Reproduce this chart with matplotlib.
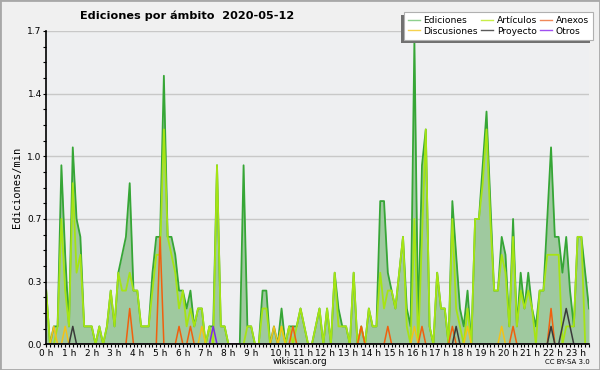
import matplotlib.pyplot as plt
import matplotlib.transforms as mtransforms
from matplotlib.lines import Line2D
from matplotlib.patches import Rectangle
import numpy as np

# edits per minute, 10-minute bins, 00:00 .. 23:50
ediciones = [
    0.3, 0.0, 0.1, 0.1, 1.0, 0.5, 0.1, 1.1, 0.7, 0.6,
    0.1, 0.1, 0.1, 0.0, 0.1, 0.0, 0.1, 0.3, 0.1, 0.4,
    0.5, 0.6, 0.9, 0.3, 0.3, 0.1, 0.1, 0.1, 0.4, 0.6,
    0.6, 1.5, 0.6, 0.6, 0.5, 0.3, 0.3, 0.2, 0.3, 0.1,
    0.2, 0.2, 0.0, 0.1, 0.1, 1.0, 0.1, 0.1, 0.0, 0.0,
    0.0, 0.0, 1.0, 0.1, 0.1, 0.0, 0.0, 0.3, 0.3, 0.0,
    0.1, 0.0, 0.2, 0.0, 0.1, 0.1, 0.1, 0.2, 0.1, 0.0,
    0.0, 0.1, 0.2, 0.0, 0.2, 0.0, 0.4, 0.2, 0.1, 0.1,
    0.0, 0.4, 0.0, 0.1, 0.0, 0.2, 0.1, 0.1, 0.8, 0.8,
    0.4, 0.3, 0.2, 0.4, 0.6, 0.2, 0.1, 1.7, 0.1, 1.0,
    1.2, 0.1, 0.0, 0.4, 0.2, 0.2, 0.0, 0.8, 0.5, 0.2,
    0.1, 0.3, 0.0, 0.7, 0.7, 1.0, 1.3, 0.8, 0.3, 0.3,
    0.6, 0.5, 0.1, 0.7, 0.1, 0.4, 0.2, 0.4, 0.2, 0.1,
    0.3, 0.3, 0.7, 1.1, 0.6, 0.6, 0.4, 0.6, 0.3, 0.1,
    0.6, 0.6, 0.4, 0.2,
]
articulos = [
    0.3, 0.0, 0.0, 0.1, 0.7, 0.3, 0.1, 0.9, 0.4, 0.5,
    0.1, 0.1, 0.1, 0.0, 0.1, 0.0, 0.1, 0.3, 0.1, 0.4,
    0.3, 0.3, 0.4, 0.3, 0.3, 0.1, 0.1, 0.1, 0.3, 0.5,
    0.5, 1.2, 0.6, 0.5, 0.4, 0.2, 0.3, 0.1, 0.2, 0.1,
    0.2, 0.2, 0.0, 0.1, 0.0, 1.0, 0.1, 0.1, 0.0, 0.0,
    0.0, 0.0, 0.0, 0.1, 0.1, 0.0, 0.0, 0.2, 0.2, 0.0,
    0.0, 0.0, 0.1, 0.0, 0.1, 0.0, 0.1, 0.2, 0.1, 0.0,
    0.0, 0.1, 0.2, 0.0, 0.2, 0.0, 0.4, 0.1, 0.1, 0.1,
    0.0, 0.4, 0.0, 0.0, 0.0, 0.2, 0.1, 0.1, 0.4, 0.2,
    0.3, 0.3, 0.2, 0.4, 0.6, 0.1, 0.0, 0.7, 0.0, 0.6,
    1.2, 0.1, 0.0, 0.4, 0.2, 0.2, 0.0, 0.7, 0.2, 0.1,
    0.0, 0.2, 0.0, 0.7, 0.7, 0.9, 1.2, 0.7, 0.3, 0.3,
    0.5, 0.4, 0.1, 0.6, 0.1, 0.3, 0.2, 0.3, 0.2, 0.0,
    0.3, 0.3, 0.5, 0.5, 0.5, 0.5, 0.0, 0.1, 0.1, 0.1,
    0.6, 0.6, 0.0, 0.0,
]
# sparse series: bin index -> value
discusiones = {2: 0.1, 5: 0.1, 41: 0.1, 60: 0.1, 62: 0.1, 83: 0.1, 97: 0.1, 111: 0.1, 120: 0.1}
anexos = {22: 0.2, 30: 0.6, 35: 0.1, 38: 0.1, 65: 0.1, 83: 0.1, 90: 0.1, 99: 0.1, 107: 0.1, 123: 0.1, 133: 0.2}
proyecto = {7: 0.1, 108: 0.1, 133: 0.1, 136: 0.1, 137: 0.2, 138: 0.1}
otros = {44: 0.1}

hour_labels = ['%d h' % h for h in range(24)]
y_ticks = [0, 0.35, 0.7, 1.05, 1.4, 1.75]
y_labels = ['0.0', '0.3', '0.7', '1.0', '1.4', '1.7']

n = len(ediciones)
x = np.arange(n) / 6.0

def dense(d):
    v = np.zeros(n)
    for k, val in d.items():
        v[k] = val
    return v

plt.rcParams['font.family'] = 'DejaVu Sans'
fig = plt.figure(figsize=(6, 3.7), dpi=100, facecolor='#f0f0f0')
ax = fig.add_axes([46.2 / 600, 1 - 344.3 / 370, 542.8 / 600, 313.3 / 370])
ax.set_facecolor('#eeeff1')

ax.fill_between(x, ediciones, color='#9fc99f', lw=0, zorder=2)
ax.plot(x, ediciones, color='#36a636', lw=1.3, zorder=3)
ax.plot(x, articulos, color='#a6e414', lw=1.3, zorder=4)
ax.plot(x, dense(discusiones), color='#f2c21a', lw=1.1, zorder=5)
ax.plot(x, dense(anexos), color='#f0600e', lw=1.1, zorder=6)
ax.plot(x, dense(proyecto), color='#3a3a3a', lw=1.1, zorder=7)
ax.plot(x, dense(otros), color='#7a2ee6', lw=1.1, zorder=8)

ax.set_xlim(0, x[-1])
ax.set_ylim(0, 1.75)
ax.set_yticks(y_ticks)
ax.set_yticklabels(y_labels)
ax.set_yticks(np.arange(0, 1.76, 0.0875), minor=True)
ax.set_xticks(range(24))
ax.set_xticklabels(hour_labels)
ax.set_xticks(x, minor=True)
ax.tick_params(axis='both', which='both', direction='out', length=2.4, width=0.8,
               labelsize=6.5, pad=0.8, color='black')
ax.grid(axis='y', which='major', color='#c8c8c8', lw=1, zorder=0)
ax.set_axisbelow(True)
for s in ['top', 'right']:
    ax.spines[s].set_visible(False)
for s in ['left', 'bottom']:
    ax.spines[s].set_linewidth(1.2)
    ax.spines[s].set_zorder(10)

# two-digit hour labels sit a little to the right in the original
shift = mtransforms.ScaledTranslation(6 / 100, 0, fig.dpi_scale_trans)
for lab, h in zip(ax.get_xticklabels(), range(24)):
    if h >= 10:
        lab.set_transform(lab.get_transform() + shift)

ax.set_ylabel('Ediciones/min', family='DejaVu Sans Mono', fontsize=7.5, labelpad=4)

fig.text(187 / 600, 1 - 16 / 370, 'Ediciones por ámbito  2020-05-12',
         ha='center', va='center', fontsize=8.1, fontweight='bold')
fig.text(300 / 600, 1 - 362 / 370, 'wikiscan.org', ha='center', va='center', fontsize=6.3)
fig.text(590 / 600, 1 - 362 / 370, 'CC BY-SA 3.0', ha='right', va='center', fontsize=5)

handles = [
    Line2D([], [], color='#8ed08e', lw=1),
    Line2D([], [], color='#f6d24e', lw=1),
    Line2D([], [], color='#c8ee48', lw=1),
    Line2D([], [], color='#5a5a5a', lw=1),
    Line2D([], [], color='#f0885a', lw=1),
    Line2D([], [], color='#a050f0', lw=1),
]
names = ['Ediciones', 'Discusiones', 'Artículos', 'Proyecto', 'Anexos', 'Otros']
leg = fig.legend(handles, names, ncol=3, loc='upper right',
                 bbox_to_anchor=(593 / 600, 1 - 12 / 370), fontsize=6.6,
                 frameon=True, fancybox=False, edgecolor='#b0b0b0', framealpha=1,
                 handlelength=1.3, handletextpad=0.4, columnspacing=0.35,
                 labelspacing=0.15, borderpad=0.45, borderaxespad=0)
leg.get_frame().set_linewidth(0.8)
leg.set_zorder(20)

fig.canvas.draw()
bb = leg.get_window_extent()
fig.patches.append(Rectangle((bb.x0 - 3, bb.y0 - 3), bb.width, bb.height,
                             transform=None, facecolor='#707070', edgecolor='none',
                             zorder=19))
fig.patches.append(Rectangle((0, 0), 1, 1, transform=fig.transFigure, fill=False,
                             edgecolor='#a8a8a8', lw=2, zorder=30))

fig.savefig('out.png', dpi=100, facecolor=fig.get_facecolor())
